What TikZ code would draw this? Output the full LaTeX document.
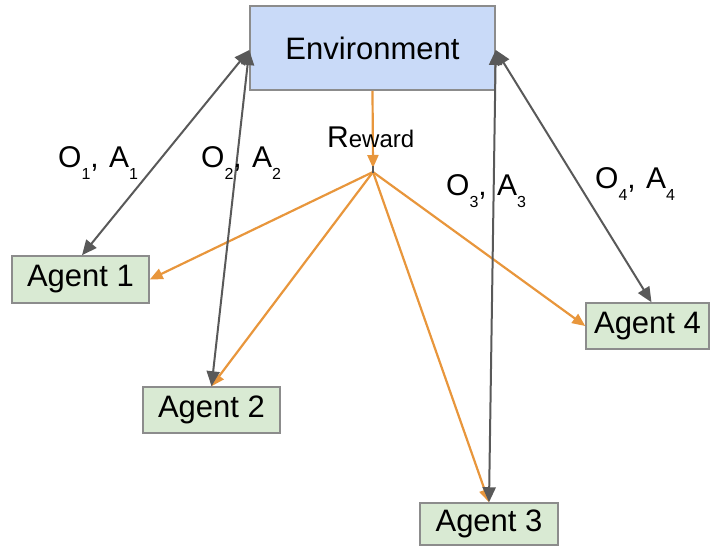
\documentclass[tikz,border=0pt]{standalone}
\usepackage{fontspec}
\setmainfont{Liberation Sans}
\usetikzlibrary{arrows.meta}

\definecolor{envfill}{HTML}{C9DAF8}
\definecolor{agentfill}{HTML}{D9EAD3}
\definecolor{boxline}{HTML}{8C8C8C}
\definecolor{linkgray}{HTML}{595959}
\definecolor{rewardorange}{HTML}{E8963C}

% lowered small index after O and A
\newcommand{\lowidx}[1]{\raisebox{-12pt}{\fontsize{16}{16}\selectfont #1}}
\newcommand{\obsact}[1]{O\lowidx{#1},\hspace{2pt} A\lowidx{#1}}

\tikzset{
  envbox/.style={draw=boxline, line width=1.5pt, fill=envfill, inner sep=0pt,
    font=\fontsize{31}{31}\selectfont},
  agentbox/.style={draw=boxline, line width=1.5pt, fill=agentfill, inner sep=0pt,
    font=\fontsize{31}{31}\selectfont},
  oalabel/.style={anchor=base west, inner sep=0pt, font=\fontsize{30}{30}\selectfont},
  link/.style={draw=linkgray, line width=2pt,
    {Triangle[length=15pt,width=13pt]}-{Triangle[length=15pt,width=13pt]}},
  rewardarrow/.style={draw=rewardorange, line width=2.2pt,
    -{Triangle[length=13pt,width=11pt]}},
}

\begin{document}
\begin{tikzpicture}[x=1pt,y=-1pt]
  \useasboundingbox (0,0) rectangle (711,547);

  % environment and agents
  \node[envbox, minimum width=245pt, minimum height=84pt] (env) at (372.5,48) {Environment};
  \node[agentbox, minimum width=137pt, minimum height=47pt] (a1) at (80.5,279.5) {Agent 1};
  \node[agentbox, minimum width=137pt, minimum height=46pt] (a2) at (211.5,410) {Agent 2};
  \node[agentbox, minimum width=138pt, minimum height=42pt] (a3) at (489,524) {Agent 3};
  \node[agentbox, minimum width=123pt, minimum height=46pt] (a4) at (647.5,326) {Agent 4};

  % reward distribution point
  \coordinate (hub) at (373,172);

  % reward signal from the environment, fanned out to every agent
  \draw[rewardarrow] (env.south) -- (373,168);
  \draw[rewardarrow] (hub) -- (a1.east);
  \draw[rewardarrow] (hub) -- (a2.north);
  \draw[rewardarrow] (hub) -- (a3.north);
  \draw[rewardarrow] (hub) -- (a4.west);
  \fill[linkgray] (372,166) rectangle (374,173);

  % observation / action exchange
  \draw[link] ([yshift=-2pt]env.west) -- ([xshift=1.5pt]a1.north);
  \draw[link] ([yshift=-2pt]env.west) -- (a2.north);
  \draw[link] ([yshift=-2pt]env.east) -- (a3.north);
  \draw[link] ([yshift=-2pt]env.east) -- ([xshift=4pt]a4.north);

  % labels
  \node[anchor=base west, inner sep=0pt] (rew) at (327,147)
    {\fontsize{30}{30}\selectfont R\fontsize{24}{24}\selectfont eward};
  \node[oalabel] (l1) at (58,167) {\obsact{1}};
  \node[oalabel] (l2) at (201,167) {\obsact{2}};
  \node[oalabel] (l3) at (446,195) {\obsact{3}};
  \node[oalabel] (l4) at (595,188) {\obsact{4}};
\end{tikzpicture}
\end{document}
